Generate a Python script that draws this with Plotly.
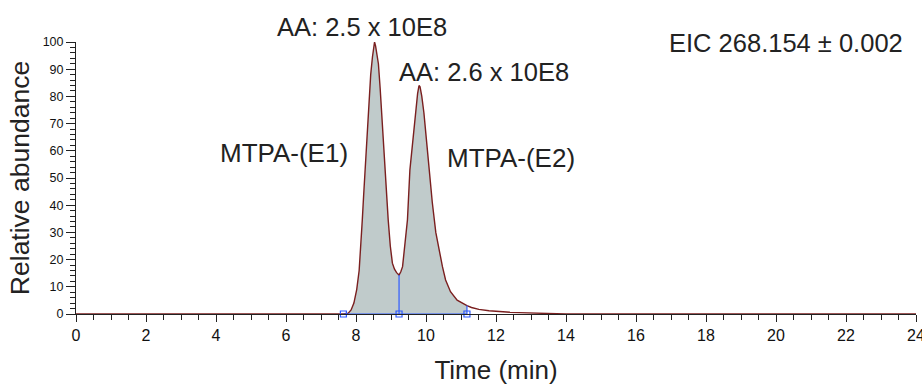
import plotly.graph_objects as go

# ---- data ----
time_min = [0, 7.5, 7.64, 7.78, 7.86, 7.94, 8.02, 8.09, 8.14, 8.18, 8.22, 8.26, 8.31, 8.37,
            8.42, 8.47, 8.51, 8.53, 8.56, 8.60, 8.64, 8.69, 8.73, 8.78, 8.84, 8.92, 8.98,
            9.04, 9.10, 9.16, 9.23, 9.28, 9.33, 9.38, 9.43, 9.47, 9.54, 9.62, 9.70, 9.76,
            9.80, 9.83, 9.88, 9.94, 10.02, 10.09, 10.18, 10.28, 10.37, 10.47, 10.56, 10.70,
            10.89, 11.05, 11.17, 11.30, 11.51, 11.80, 12.09, 12.40, 12.66, 13.0, 13.3, 13.6,
            14.0, 24.0]
abundance = [0, 0, 0.05, 0.3, 1.5, 4, 9, 16, 25, 34.6, 44, 53, 66, 80,
             88, 94.5, 99, 100, 98.5, 95, 92, 83, 74, 64, 53, 34.6, 25,
             18.7, 16.5, 15.2, 14.3, 15.5, 17.4, 24, 30, 34.6, 53, 64, 74, 81,
             84, 83.5, 80, 74, 63, 53, 41, 30, 23.5, 17.4, 12.5, 8.2,
             5.1, 3.8, 3.1, 2.4, 1.7, 1.2, 0.85, 0.65, 0.5, 0.35, 0.2, 0.05,
             0, 0]

# integration markers (peak start, valley split, peak end)
marker_times = [7.64, 9.23, 11.17]

x_ticks = list(range(0, 25, 2))
y_ticks = list(range(0, 101, 10))

annotations_text = ["AA: 2.5 x 10E8", "AA: 2.6 x 10E8", "MTPA-(E1)", "MTPA-(E2)",
                    "EIC 268.154 ± 0.002"]

# ---- styles ----
FONT = "Arial, 'Liberation Sans', sans-serif"
LINE_COLOR = "#7a1f1f"
FILL_COLOR = "#c0cbcb"
BLUE = "#2f5bff"
TEXT = "#222222"

start, split, end = marker_times
fill_t = [t for t in time_min if start <= t <= end]
fill_y = [a for t, a in zip(time_min, abundance) if start <= t <= end]
split_h = abundance[time_min.index(split)]
end_h = abundance[time_min.index(end)]

fig = go.Figure()

# filled integration area
fig.add_trace(go.Scatter(x=fill_t, y=fill_y, mode="lines", fill="tozeroy",
                         fillcolor=FILL_COLOR, line=dict(width=0, color=FILL_COLOR),
                         hoverinfo="skip", showlegend=False))
# chromatogram trace
fig.add_trace(go.Scatter(x=time_min, y=abundance, mode="lines",
                         line=dict(color=LINE_COLOR, width=1.4),
                         showlegend=False))
# integration baseline and split lines
fig.add_trace(go.Scatter(x=[start, end], y=[0, 0], mode="lines",
                         line=dict(color=BLUE, width=1.2), showlegend=False))
fig.add_trace(go.Scatter(x=[split, split, None, end, end], y=[0, split_h, None, 0, end_h],
                         mode="lines", line=dict(color=BLUE, width=1.2), showlegend=False))
fig.add_trace(go.Scatter(x=marker_times, y=[0] * len(marker_times), mode="markers",
                         marker=dict(symbol="square-open", size=6, color=BLUE,
                                     line=dict(width=1.2, color=BLUE)),
                         showlegend=False, cliponaxis=False))

ann_pos = [(362, 27, 25.5), (484, 72, 25.5), (284, 153, 26), (511, 158, 26), (786, 43, 25.5)]
for txt, (px, py, fs) in zip(annotations_text, ann_pos):
    fig.add_annotation(text=txt, xref="paper", yref="paper",
                       x=(px - 76.4) / (915.7 - 76.4), y=(314.5 - py) / (314.5 - 42),
                       xanchor="center", yanchor="middle", showarrow=False,
                       font=dict(family=FONT, size=fs, color=TEXT))

fig.update_layout(
    width=922, height=385,
    margin=dict(l=76.4, r=6.3, t=42, b=70.5),
    paper_bgcolor="white", plot_bgcolor="white",
    font=dict(family=FONT, color=TEXT),
    xaxis=dict(range=[0, 24], tickvals=x_ticks, ticks="outside", ticklen=7,
               tickwidth=1, tickcolor="#222", showline=True, linecolor="#222",
               linewidth=1, showgrid=False, zeroline=False, automargin=False,
               ticklabeloverflow="allow",
               minor=dict(dtick=0.5, ticks="outside", ticklen=5, tickcolor="#222",
                          showgrid=False),
               tickfont=dict(family=FONT, size=16, color="#111"),
               title=dict(text="Time (min)", font=dict(family=FONT, size=26, color=TEXT),
                          standoff=17)),
    yaxis=dict(range=[0, 100], tickvals=y_ticks, ticks="outside", ticklen=9,
               tickwidth=1, tickcolor="#222", showline=True, linecolor="#222",
               linewidth=1, showgrid=False, zeroline=False, automargin=False,
               minor=dict(dtick=2, ticks="outside", ticklen=5, tickcolor="#222",
                          showgrid=False),
               tickfont=dict(family=FONT, size=12.5, color="#111"),
               title=dict(text="Relative abundance", font=dict(family=FONT, size=26.5, color=TEXT),
                          standoff=5)),
)

fig.write_html("out.html", config={"displayModeBar": False},
               post_script="document.body.style.margin='0';document.body.style.overflow='hidden';")
